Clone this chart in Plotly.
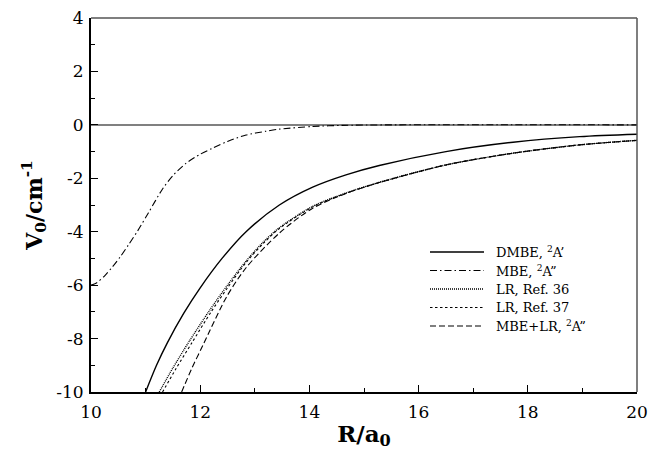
import plotly.graph_objects as go

# ---- data ----
R_dmbe = [11.0, 11.2, 11.4, 11.7, 12.0, 12.4, 12.84, 13.45, 14.06, 14.67, 15.28, 16.5, 17.73, 18.95, 20.0]
V_dmbe = [-10.0, -9.0, -8.15, -7.05, -6.1, -5.0, -4.0, -3.0, -2.33, -1.87, -1.52, -1.0, -0.65, -0.44, -0.35]

R_mbe = [10.0, 10.1, 10.25, 10.4, 10.55, 10.7, 10.86, 11.05, 11.31, 11.5, 11.74, 12.0, 12.23, 12.5,
         12.84, 13.2, 13.45, 14.06, 14.6, 15.5, 20.0]
V_mbe = [-6.0, -5.92, -5.65, -5.3, -4.9, -4.45, -3.95, -3.3, -2.4, -1.9, -1.44, -1.1, -0.87, -0.62,
         -0.38, -0.24, -0.16, -0.06, -0.02, 0.0, 0.0]

R_lr36 = [11.25, 11.5, 11.8, 12.17, 12.5, 12.84, 13.15, 13.45, 14.06, 14.67, 15.28, 16.5, 17.73, 18.95, 20.0]
V_lr36 = [-10.0, -9.1, -8.1, -6.95, -6.0, -5.1, -4.4, -3.85, -3.05, -2.55, -2.15, -1.5, -1.06, -0.75, -0.58]

R_lr37 = [11.31, 11.55, 11.85, 12.2, 12.5, 12.84, 13.15, 13.45, 14.06, 14.67, 15.28, 16.5, 17.73, 18.95, 20.0]
V_lr37 = [-10.0, -9.15, -8.15, -7.0, -6.1, -5.15, -4.45, -3.88, -3.07, -2.56, -2.16, -1.5, -1.06, -0.75, -0.58]

R_mbelr = [11.66, 11.85, 12.05, 12.48, 12.84, 13.45, 14.06, 14.67, 15.28, 16.5, 17.73, 18.95, 20.0]
V_mbelr = [-10.0, -9.1, -8.25, -6.45, -5.35, -4.05, -3.12, -2.57, -2.16, -1.5, -1.06, -0.75, -0.58]

names = ["DMBE, <sup>2</sup>A’", "MBE, <sup>2</sup>A”", "LR, Ref. 36", "LR, Ref. 37",
         "MBE+LR, <sup>2</sup>A”"]

x_ticks = [10, 12, 14, 16, 18, 20]
y_ticks = [4, 2, 0, -2, -4, -6, -8, -10]

FONT = "DejaVu Serif"

# figure geometry (pixels)
W, H = 650, 451
ML, MR, MT, MB = 91, 13, 18, 59
PW, PH = W - ML - MR, H - MT - MB

styles = [("solid", 1.4), ("7px,3px,1.5px,3px", 1.1), ("1px,1px", 1.4),
          ("2.5px,2.5px", 1.1), ("6px,3px", 1.1)]
datasets = [(R_dmbe, V_dmbe), (R_mbe, V_mbe), (R_lr36, V_lr36), (R_lr37, V_lr37), (R_mbelr, V_mbelr)]

fig = go.Figure()
for (xs, ys), nm, (dash, w) in zip(datasets, names, styles):
    fig.add_trace(go.Scatter(
        x=xs, y=ys, name=nm, mode="lines", showlegend=False,
        line=dict(color="black", width=w, dash=dash, shape="spline", smoothing=0.8),
    ))

axis_common = dict(
    showgrid=False, showline=True, linecolor="black", linewidth=2, automargin=False,
    ticks="inside", ticklen=7, tickwidth=1.3, tickcolor="black",
    tickfont=dict(family=FONT, size=17, color="black"),
)

fig.update_xaxes(
    range=[10, 20], tickvals=x_ticks, zeroline=False, ticklabelstandoff=4,
    minor=dict(dtick=1, ticks="inside", ticklen=4, tickwidth=1.1, tickcolor="black"),
    title=dict(text="<b>R/a<sub>0</sub></b>", font=dict(family=FONT, size=23, color="black"),
               standoff=4),
    **axis_common,
)
fig.update_yaxes(
    range=[-10, 4], tickvals=y_ticks, ticktext=[str(v) for v in y_ticks],
    zeroline=True, zerolinecolor="#808080", zerolinewidth=2, ticklabelstandoff=2,
    minor=dict(dtick=1, ticks="inside", ticklen=4, tickwidth=1.1, tickcolor="black"),
    title=dict(text="<b>V<sub>0</sub>/cm<sup>-1</sup></b>",
               font=dict(family=FONT, size=22, color="black"), standoff=8),
    **axis_common,
)

# top and right frame lines (thinner, grey)
fig.add_shape(type="line", xref="paper", yref="paper", x0=0, x1=1, y0=1, y1=1,
              line=dict(color="#555555", width=1.5))
fig.add_shape(type="line", xref="paper", yref="paper", x0=1, x1=1, y0=0, y1=1,
              line=dict(color="#555555", width=1.5))

# legend drawn inside the plot (sample line + label per series)
leg_x0, leg_x1, leg_tx = 430, 484, 494
leg_y = [252, 270.5, 289, 307.5, 326]
for (dash, w), nm, py in zip(styles, names, leg_y):
    yp = (H - MB - py) / PH
    fig.add_shape(type="line", xref="paper", yref="paper",
                  x0=(leg_x0 - ML) / PW, x1=(leg_x1 - ML) / PW, y0=yp, y1=yp,
                  line=dict(color="black", width=w, dash=dash))
    fig.add_annotation(xref="paper", yref="paper", x=(leg_tx - ML) / PW, y=yp,
                       xanchor="left", yanchor="middle", showarrow=False, text=nm,
                       font=dict(family=FONT, size=13, color="black"))

fig.update_layout(
    width=W, height=H,
    margin=dict(l=ML, r=MR, t=MT, b=MB),
    paper_bgcolor="white", plot_bgcolor="white",
    font=dict(family=FONT, color="black"),
    showlegend=False,
)

fig.write_html("out.html")
